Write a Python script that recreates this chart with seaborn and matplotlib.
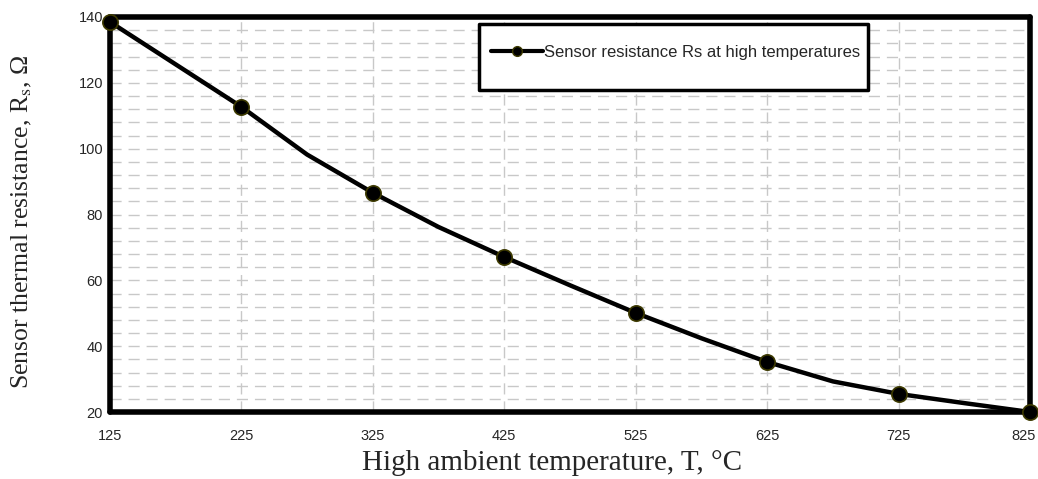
import matplotlib
matplotlib.use("Agg")
import matplotlib.pyplot as plt
import matplotlib.transforms as mtransforms
import seaborn as sns
import pandas as pd
from matplotlib.lines import Line2D
from matplotlib.patches import FancyBboxPatch
from matplotlib.ticker import MultipleLocator

# ---- data ----
temperature = [125, 175, 225, 275, 325, 375, 425, 475, 525, 575, 625, 675, 725, 775, 825]
resistance = [138.5, 125.6, 112.7, 98.2, 86.6, 76.2, 67.1, 58.5, 50.1, 42.4, 35.2, 29.3, 25.5, 22.7, 20.0]
x_ticks = [125, 225, 325, 425, 525, 625, 725, 825]
y_ticks = [20, 40, 60, 80, 100, 120, 140]
series_label = "Sensor resistance Rs at high temperatures"
x_label = "High ambient temperature, T, °C"
y_label = "Sensor thermal resistance, R$_{\\mathrm{s}}$, Ω"

df = pd.DataFrame({"T": temperature, "Rs": resistance})

sns.set_style("white")
plt.rcParams["font.family"] = ["Liberation Sans", "DejaVu Sans"]
plt.rcParams["mathtext.fontset"] = "stix"

W, H = 1038, 479
fig = plt.figure(figsize=(W / 100, H / 100), dpi=100)
ax = fig.add_axes([110 / W, 1 - 412 / H, 920 / W, 395 / H])

sns.lineplot(data=df, x="T", y="Rs", ax=ax, color="black", linewidth=3.2,
             marker="o", markersize=11, markerfacecolor="black",
             markeredgecolor="#3d3a00", markeredgewidth=1.2,
             markevery=slice(0, None, 2), clip_on=False, zorder=5)

ax.set_xlim(125, 825)
ax.set_ylim(20, 140)
ax.set_xticks(x_ticks)
ax.set_yticks(y_ticks)
ax.xaxis.set_minor_locator(MultipleLocator(20))
ax.yaxis.set_minor_locator(MultipleLocator(4))

ax.grid(False)
for xv in x_ticks[1:-1]:
    ax.axvline(xv, color="#c8c8c8", linewidth=1.0, linestyle=(0, (8, 5)), zorder=1)
ax.yaxis.grid(True, which="both", color="#c8c8c8", linewidth=1.0, linestyle=(0, (8, 5)), zorder=1)
ax.set_axisbelow(True)

for s in ax.spines.values():
    s.set_linewidth(4.0)
    s.set_color("black")
    s.set_capstyle("round")

ax.tick_params(axis="both", which="both", direction="in", top=False, right=False)
ax.tick_params(axis="both", which="major", length=0)
ax.tick_params(axis="both", which="minor", length=5, width=1, color="#555555")
ax.tick_params(axis="x", which="major", pad=12, labelsize=10.5)
ax.tick_params(axis="y", which="major", pad=5, labelsize=10.5)

# nudge the last x tick label inside the figure
last = ax.get_xticklabels()[-1]
last.set_transform(last.get_transform() + mtransforms.ScaledTranslation(-6 / 100, 0, fig.dpi_scale_trans))

ax.set_xlabel(x_label, family=["Liberation Serif", "DejaVu Serif"], fontsize=21, va="center")
ax.set_ylabel(y_label, family=["Liberation Serif", "DejaVu Serif"], fontsize=18.5, va="center")
ax.xaxis.set_label_coords((552 - 110) / 920, (412 - 463) / 395)
ax.yaxis.set_label_coords((22 - 110) / 920, (412 - 222) / 395)

# legend
handle = Line2D([], [], color="black", linewidth=3.0, marker="o", markersize=7,
                markerfacecolor="black", markeredgecolor="#3d3a00", markeredgewidth=1.0)
leg = ax.legend([handle], [series_label], loc="center left",
                bbox_to_anchor=(491 / W, 1 - 52 / H), bbox_transform=fig.transFigure,
                frameon=False, borderpad=0, borderaxespad=0, handlelength=3.1,
                handletextpad=0.1, fontsize=12)
leg.set_zorder(10)
box = FancyBboxPatch((479 / W, 1 - 90 / H), (868 - 479) / W, 66 / H,
                     boxstyle="square,pad=0", transform=fig.transFigure,
                     facecolor="white", edgecolor="black", linewidth=2.5,
                     joinstyle="round", zorder=6, clip_on=False)
ax.add_artist(box)

fig.savefig("out.png", dpi=100)
